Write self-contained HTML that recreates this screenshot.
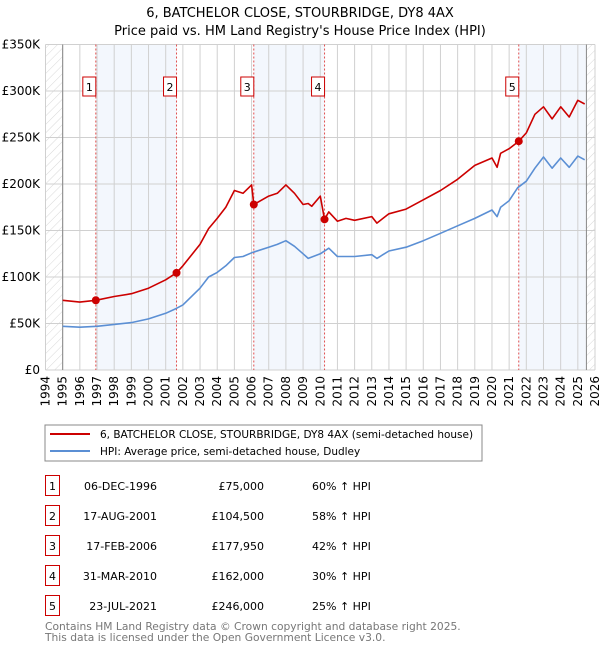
<!DOCTYPE html>
<html><head><meta charset="utf-8"><style>
body{margin:0;width:600px;height:650px;background:#fff;font-family:"DejaVu Sans","Liberation Sans",sans-serif;overflow:hidden}
svg text{font-family:"DejaVu Sans","Liberation Sans",sans-serif}
</style></head><body>
<svg id="chart" width="600" height="650" xmlns="http://www.w3.org/2000/svg">
<defs><pattern id="hatch" width="6" height="6" patternUnits="userSpaceOnUse" patternTransform="rotate(45)"><line x1="0" y1="0" x2="0" y2="6" stroke="#d8d8d8" stroke-width="1"/></pattern></defs>
<text x="300" y="17" text-anchor="middle" font-size="13">6, BATCHELOR CLOSE, STOURBRIDGE, DY8 4AX</text>
<text x="300" y="35" text-anchor="middle" font-size="13">Price paid vs. HM Land Registry's House Price Index (HPI)</text>
<g id="plot"></g>
<rect x="45" y="425" width="437" height="36" fill="#fff" stroke="#888"/>
<line x1="50" y1="434" x2="90" y2="434" stroke="#cc0000" stroke-width="2"/>
<text x="100" y="438" font-size="10.5">6, BATCHELOR CLOSE, STOURBRIDGE, DY8 4AX (semi-detached house)</text>
<line x1="50" y1="451" x2="90" y2="451" stroke="#5b8fd4" stroke-width="2"/>
<text x="100" y="455" font-size="10.5">HPI: Average price, semi-detached house, Dudley</text>
<g id="table"></g>
<text x="45" y="630" font-size="10.7" fill="#777">Contains HM Land Registry data © Crown copyright and database right 2025.</text>
<text x="45" y="641" font-size="10.7" fill="#777">This data is licensed under the Open Government Licence v3.0.</text>
</svg>
<script>
const hpiYears=[1995,1996,1997,1998,1999,2000,2001,2001.6,2002,2003,2003.5,2004,2004.5,2005,2005.5,2006,2007,2007.5,2008,2008.5,2009,2009.3,2010,2010.5,2011,2012,2013,2013.3,2014,2015,2016,2017,2018,2019,2020,2020.3,2020.5,2021,2021.5,2022,2022.5,2023,2023.5,2024,2024.5,2025,2025.4];
const hpiValues=[47,46,47,49,51,55,61,66,70,88,100,105,112,121,122,126,132,135,139,133,125,120,125,131,122,122,124,120,128,132,139,147,155,163,172,165,175,182,196,203,217,229,217,228,218,230,226];
const priceYears=[1995,1996,1996.93,1998,1999,2000,2001,2001.63,2002,2003,2003.5,2004,2004.5,2005,2005.5,2006,2006.13,2007,2007.5,2008,2008.5,2009,2009.3,2009.5,2010,2010.25,2010.5,2011,2011.5,2012,2013,2013.3,2014,2015,2016,2017,2018,2019,2020,2020.3,2020.5,2021,2021.56,2022,2022.5,2023,2023.5,2024,2024.5,2025,2025.4];
const priceValues=[75,73,75,79,82,88,97,104.5,112,135,152,163,175,193,190,199,178,187,190,199,190,178,179,176,187,162,170,160,163,161,165,158,168,173,183,193,205,220,228,218,233,238,246,255,275,283,270,283,272,290,286];
const saleYears=[1996.93,2001.63,2006.13,2010.25,2021.56];
const saleValues=[75,104.5,177.95,162,246];
const saleDates=["06-DEC-1996","17-AUG-2001","17-FEB-2006","31-MAR-2010","23-JUL-2021"];
const salePrices=["£75,000","£104,500","£177,950","£162,000","£246,000"];
const saleHpi=["60% ↑ HPI","58% ↑ HPI","42% ↑ HPI","30% ↑ HPI","25% ↑ HPI"];
const yTicks=[0,50,100,150,200,250,300,350];
const yTickLabels=["£0","£50K","£100K","£150K","£200K","£250K","£300K","£350K"];
const xTicks=[1994,1995,1996,1997,1998,1999,2000,2001,2002,2003,2004,2005,2006,2007,2008,2009,2010,2011,2012,2013,2014,2015,2016,2017,2018,2019,2020,2021,2022,2023,2024,2025,2026];

const L=45.5,R=595,T=44.5,B=370;
const X=y=>L+(y-1994)/32*(R-L);
const Y=v=>B-v/350*(B-T);
const NS="http://www.w3.org/2000/svg";
function mk(tag,attrs,parent){const e=document.createElementNS(NS,tag);for(const k in attrs)e.setAttribute(k,attrs[k]);parent.appendChild(e);return e;}
const g=document.getElementById('plot');
const bands=[[saleYears[0],saleYears[1]],[saleYears[2],saleYears[3]],[saleYears[4],2025.5]];
bands.forEach(b=>{const r=mk('rect',{x:X(b[0]),y:T,width:X(b[1])-X(b[0]),height:B-T,fill:'#eef3fc',opacity:0.7},g);

});
let h1=mk('rect',{x:L,y:T,width:X(1995)-L,height:B-T,fill:'url(#hatch)'},g);


let h2=mk('rect',{x:X(2025.5),y:T,width:R-X(2025.5),height:B-T,fill:'url(#hatch)'},g);


xTicks.forEach(t=>{const l=mk('line',{x1:X(t),x2:X(t),y1:T,y2:B,stroke:'#d0d0d0','stroke-width':1},g);


const tx=mk('text',{x:0,y:0,'font-size':12,'text-anchor':'end',transform:`translate(${X(t)+4},${B+6}) rotate(-90)`},g);tx.textContent=t;

});
yTicks.forEach((t,i)=>{const l=mk('line',{x1:L,x2:R,y1:Y(t),y2:Y(t),stroke:'#d0d0d0','stroke-width':1},g);


const tx=mk('text',{x:40,y:Y(t)+4,'font-size':12,'text-anchor':'end'},g);tx.textContent=yTickLabels[i];

});
let ax=mk('line',{x1:X(1995),x2:X(1995),y1:T,y2:B,stroke:'#888'},g);


let ax2=mk('line',{x1:X(2025.5),x2:X(2025.5),y1:T,y2:B,stroke:'#888'},g);


saleYears.forEach((s,i)=>{const l=mk('line',{x1:X(s),x2:X(s),y1:T,y2:B,stroke:'#e05050','stroke-dasharray':'2,2','stroke-width':1},g);


const r=mk('rect',{x:X(s)-13,y:77,width:13,height:19,fill:'#fff',stroke:'#cc0000'},g);


const t=mk('text',{x:X(s)-6.5,y:91,'font-size':11,'text-anchor':'middle'},g);t.textContent=i+1;

});
function path(xs,vs,col,name){const d=xs.map((x,i)=>(i?'L':'M')+X(x).toFixed(1)+','+Y(vs[i]).toFixed(1)).join('');
const p=mk('path',{d:d,fill:'none',stroke:col,'stroke-width':1.6,'stroke-linejoin':'round'},g);

}
path(hpiYears,hpiValues,'#5b8fd4','hpi-line');
path(priceYears,priceValues,'#cc0000','price-paid-line');
saleYears.forEach((s,i)=>{const c=mk('circle',{cx:X(s),cy:Y(saleValues[i]),r:4,fill:'#cc0000'},g);

});
const tb=document.getElementById('table');
saleDates.forEach((d,i)=>{const y=475+i*30;
const r=mk('rect',{x:45.5,y:y+0.5,width:14,height:20,fill:'#fff',stroke:'#cc0000'},tb);


const n=mk('text',{x:52.5,y:y+15,'font-size':11,'text-anchor':'middle'},tb);n.textContent=i+1;


const a=mk('text',{x:157,y:y+15,'font-size':11,'text-anchor':'end'},tb);a.textContent=d;


const b=mk('text',{x:264,y:y+15,'font-size':11,'text-anchor':'end'},tb);b.textContent=salePrices[i];


const c=mk('text',{x:312,y:y+15,'font-size':11},tb);c.textContent=saleHpi[i];

});
</script>
</body></html>
